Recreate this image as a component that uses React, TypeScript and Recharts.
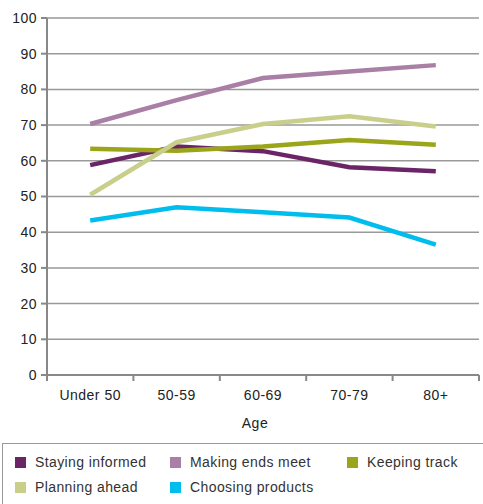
import { CartesianGrid, Line, LineChart, XAxis, YAxis } from "recharts";

const ages = ["Under 50", "50-59", "60-69", "70-79", "80+"];
const stayingInformed = [58.8, 64, 62.7, 58.2, 57.1];
const makingEndsMeet = [70.3, 77, 83.2, 85, 86.8];
const keepingTrack = [63.4, 62.8, 64, 65.8, 64.5];
const planningAhead = [50.5, 65.2, 70.3, 72.5, 69.6];
const choosingProducts = [43.3, 47, 45.6, 44.1, 36.5];
const yTicks = [0, 10, 20, 30, 40, 50, 60, 70, 80, 90, 100];

const series = [
    { key: "staying", name: "Staying informed", values: stayingInformed, color: "#6b2466" },
    { key: "ends", name: "Making ends meet", values: makingEndsMeet, color: "#a97fa6" },
    { key: "track", name: "Keeping track", values: keepingTrack, color: "#9aa51a" },
    { key: "planning", name: "Planning ahead", values: planningAhead, color: "#c9cf8a" },
    { key: "choosing", name: "Choosing products", values: choosingProducts, color: "#00bdee" },
];

const data = ages.map((age, i) => {
    const row: Record<string, string | number> = { age };
    series.forEach((s) => (row[s.key] = s.values[i]));
    return row;
});

const W = 483;
const H = 443;
const M = { top: 18, right: 4, left: 0, bottom: 8 };
const Y_W = 47;
const halfBand = (W - M.left - M.right - Y_W) / ages.length / 2;
const font = "'Liberation Sans', Arial, sans-serif";

function AgeTick(props: any) {
    const { x, y, payload, index } = props;
    return (
        <g>
            <line x1={x + halfBand} x2={x + halfBand} y1={y} y2={y + 6} stroke="#888" strokeWidth={2} />
            {index === 0 && <line x1={x - halfBand} x2={x - halfBand} y1={y} y2={y + 6} stroke="#888" strokeWidth={2} />}
            <text x={x} y={y + 25} textAnchor="middle" fill="#222" fontSize={14} letterSpacing={0.5} fontFamily={font}>
                {payload.value}
            </text>
        </g>
    );
}

export default function App() {
    return (
        <div style={{ position: "absolute", left: 0, top: 0, width: W, height: 504, background: "#fff", overflow: "hidden" }}>
            <LineChart width={W} height={H} data={data} margin={M}>
                <CartesianGrid vertical={false} stroke="#999" strokeWidth={1.5} />
                <XAxis
                    dataKey="age"
                    height={60}
                    stroke="#888"
                    strokeWidth={2}
                    tickLine={false}
                    tickSize={0}
                    tickMargin={0}
                    padding={{ left: halfBand, right: halfBand }}
                    tick={<AgeTick />}
                    interval={0}
                    label={{ value: "Age", position: "insideBottom", offset: 7, dx: -8, fill: "#222", fontSize: 14, letterSpacing: 0.5, fontFamily: font }}
                />
                <YAxis
                    width={Y_W}
                    domain={[0, 100]}
                    ticks={yTicks}
                    interval={0}
                    stroke="#888"
                    strokeWidth={2}
                    tickSize={6}
                    tickMargin={4}
                    tick={{ fill: "#222", fontSize: 14, letterSpacing: 0.5, fontFamily: font }}
                />
                {series.map((s) => (
                    <Line
                        key={s.key}
                        dataKey={s.key}
                        name={s.name}
                        stroke={s.color}
                        strokeWidth={4.5}
                        dot={false}
                        type="linear"
                        isAnimationActive={false}
                    />
                ))}
            </LineChart>
            <div
                style={{
                    position: "absolute",
                    left: 2,
                    top: 443,
                    width: 490,
                    height: 70,
                    border: "1.5px solid #999",
                    boxSizing: "border-box",
                    fontFamily: font,
                    fontSize: 14,
                    letterSpacing: 0.4,
                    color: "#333",
                }}
            >
                {series.map((s, i) => {
                    const col = i < 3 ? i : i - 3;
                    const row = i < 3 ? 0 : 1;
                    const lefts = [12, 167, 344];
                    return (
                        <div
                            key={s.key}
                            style={{ position: "absolute", left: lefts[col], top: 9 + row * 25, height: 18, display: "flex", alignItems: "center", whiteSpace: "nowrap" }}
                        >
                            <span style={{ width: 11, height: 11, background: s.color, display: "inline-block", marginRight: 9 }} />
                            <span>{s.name}</span>
                        </div>
                    );
                })}
            </div>
        </div>
    );
}
